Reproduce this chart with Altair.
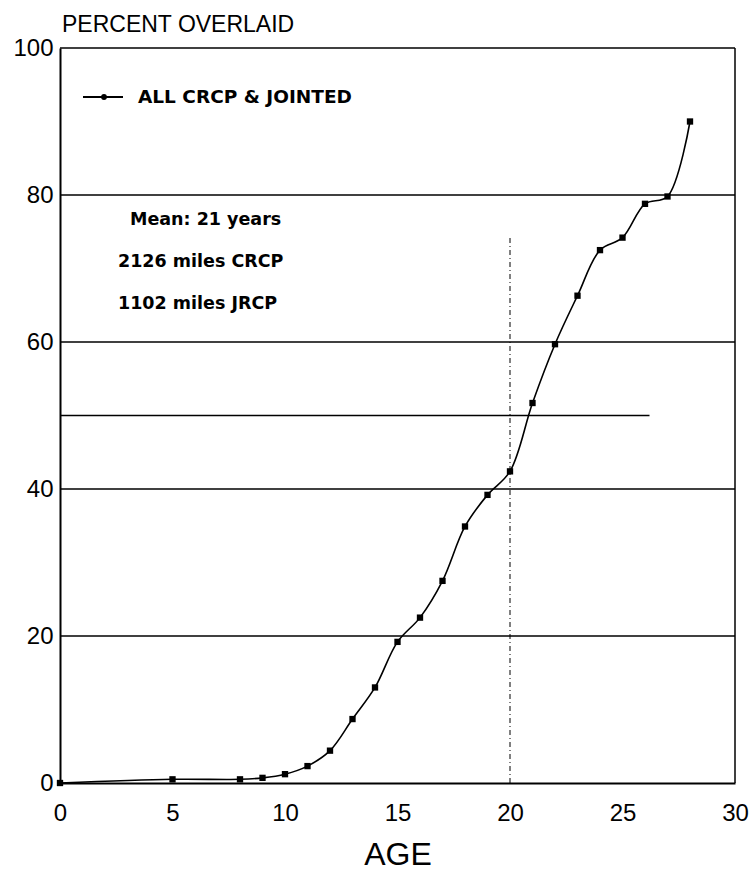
import altair as alt
import pandas as pd

# Percent of pavement overlaid by age (years)
ages = [0, 5, 8, 9, 10, 11, 12, 13, 14, 15, 16, 17, 18, 19, 20, 21, 22, 23, 24, 25, 26, 27, 28]
percent = [0.0, 0.5, 0.5, 0.7, 1.2, 2.3, 4.4, 8.7, 13.0, 19.2, 22.5, 27.5, 34.9, 39.2, 42.4,
           51.7, 59.7, 66.3, 72.5, 74.2, 78.8, 79.8, 90.0]

grid_levels = [20, 40, 60, 80, 100]
half_level = [50]
half_level_end = [26.2]
mean_marker_age = [20]
mean_marker_top = [74.3]

legend_label = "ALL CRCP & JOINTED"
notes = ["Mean: 21 years", "2126 miles CRCP", "1102 miles JRCP"]

FONT = "Liberation Sans"
BOLD_FONT = "DejaVu Sans"

df = pd.DataFrame({"age": ages, "pct": percent})
grid_df = pd.DataFrame({"lvl": grid_levels})
half_df = pd.DataFrame({"lvl": half_level, "x0": [0], "x1": half_level_end})
mean_df = pd.DataFrame({"age": mean_marker_age, "y0": [0], "y1": mean_marker_top})
one = pd.DataFrame({"k": [0]})

xscale = alt.Scale(domain=[0, 30], nice=False, zero=False)
yscale = alt.Scale(domain=[0, 100], nice=False)

xaxis = alt.Axis(values=list(range(0, 31, 5)), title="AGE", grid=False, ticks=False,
                 domainColor="black", domainWidth=2, labelFont=FONT, labelFontSize=24,
                 labelColor="black", labelPadding=18, titleFont=FONT, titleFontSize=32,
                 titleFontWeight="normal", titleColor="black", titlePadding=14,
                 labelFlush=False)
yaxis = alt.Axis(values=list(range(0, 101, 20)), title=None, grid=False, ticks=False,
                 domainColor="black", domainWidth=2, labelFont=FONT, labelFontSize=24,
                 labelColor="black", labelPadding=7)


def X(field):
    return alt.X(field, type="quantitative", scale=xscale, axis=xaxis)


def Y(field):
    return alt.Y(field, type="quantitative", scale=yscale, axis=yaxis)


grid = alt.Chart(grid_df).mark_rule(color="black", strokeWidth=1.5).encode(y=Y("lvl"))

half = alt.Chart(half_df).mark_rule(color="black", strokeWidth=1.5).encode(
    y=Y("lvl"), x=X("x0"), x2="x1"
)

right_edge = alt.Chart(one).mark_rule(color="black", strokeWidth=1.5).encode(
    x=alt.value(675), y=alt.value(0), y2=alt.value(735)
)

mean_rule = alt.Chart(mean_df).mark_rule(color="black", strokeWidth=1,
                                         strokeDash=[5, 3, 1, 3]).encode(
    x=X("age"), y=Y("y0"), y2="y1"
)

curve = alt.Chart(df).mark_line(color="black", strokeWidth=1.6,
                                interpolate="catmull-rom").encode(x=X("age"), y=Y("pct"))

pts = alt.Chart(df).mark_point(shape="square", filled=True, color="black",
                               size=40, opacity=1).encode(x=X("age"), y=Y("pct"))

legend_line = alt.Chart(one).mark_rule(color="black", strokeWidth=2.2).encode(
    x=alt.value(23), x2=alt.value(63), y=alt.value(49)
)
legend_dot = alt.Chart(one).mark_point(shape="circle", filled=True, color="black",
                                       size=34, opacity=1).encode(
    x=alt.value(44), y=alt.value(49)
)
legend_text = alt.Chart(one).mark_text(font=BOLD_FONT, fontSize=18.5, fontWeight="bold",
                                       align="left", baseline="middle", color="black").encode(
    x=alt.value(78), y=alt.value(49), text=alt.value(legend_label)
)

y_title = alt.Chart(one).mark_text(font=FONT, fontSize=23, align="left",
                                   baseline="alphabetic", color="black").encode(
    x=alt.value(2), y=alt.value(-16), text=alt.value("PERCENT OVERLAID")
)

# summary block in the upper left of the plot
note_layers = []
for i, (txt, px) in enumerate(zip(notes, [70, 58, 58])):
    note_layers.append(
        alt.Chart(one).mark_text(font=BOLD_FONT, fontSize=17.5, fontWeight="bold",
                                 align="left", baseline="alphabetic",
                                 color="black").encode(
            x=alt.value(px), y=alt.value(177 + 42 * i), text=alt.value(txt)
        )
    )

chart = alt.layer(
    grid, half, right_edge, mean_rule, curve, pts,
    legend_line, legend_dot, legend_text, y_title, *note_layers,
).properties(
    width=675, height=735,
    padding={"left": 60, "top": 48, "right": 17, "bottom": 96},
    autosize="none",
    background="white",
).configure_view(strokeWidth=0)

chart.save("out.html", embed_options={"renderer": "svg", "actions": False})
